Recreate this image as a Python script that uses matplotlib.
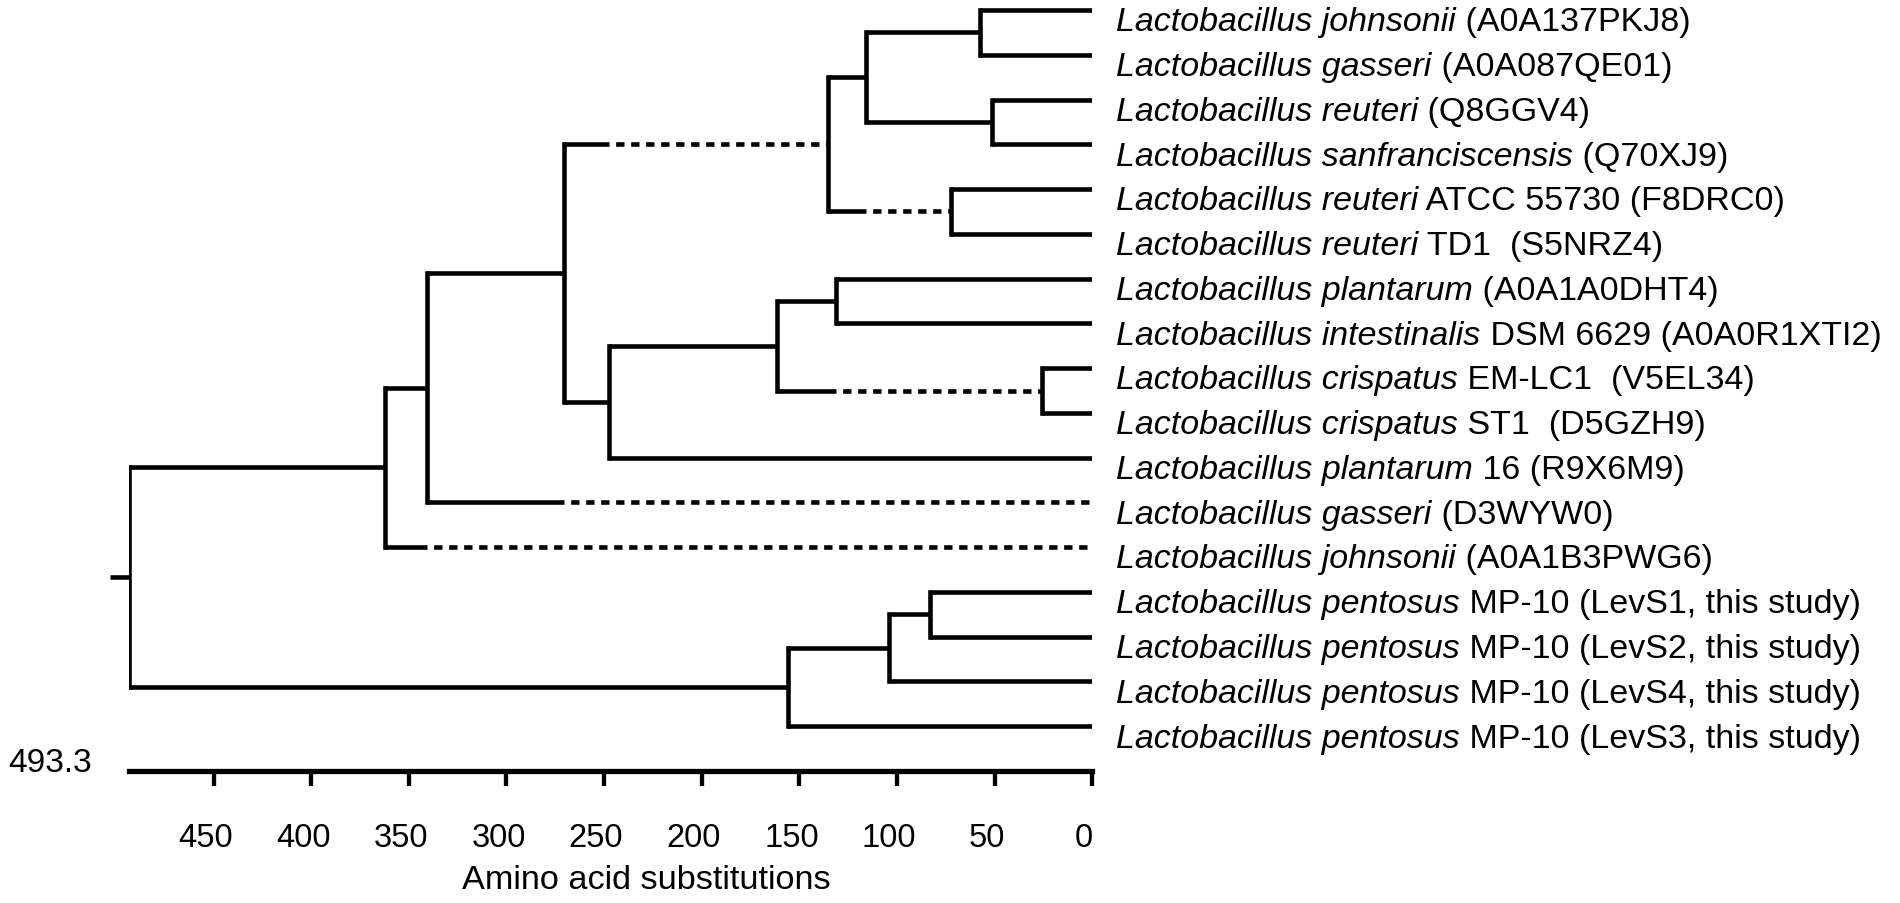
import matplotlib
matplotlib.use("Agg")
import matplotlib.pyplot as plt
from matplotlib.transforms import ScaledTranslation

plt.rcParams['font.family'] = ['Liberation Sans', 'DejaVu Sans']
plt.rcParams['lines.scale_dashes'] = False

# ---------------- data ----------------
genus = "Lactobacillus"
species = ["johnsonii", "gasseri", "reuteri", "sanfranciscensis", "reuteri", "reuteri",
           "plantarum", "intestinalis", "crispatus", "crispatus", "plantarum", "gasseri",
           "johnsonii", "pentosus", "pentosus", "pentosus", "pentosus"]
suffixes = ["(A0A137PKJ8)", "(A0A087QE01)", "(Q8GGV4)", "(Q70XJ9)",
            "ATCC 55730 (F8DRC0)", "TD1  (S5NRZ4)", "(A0A1A0DHT4)",
            "DSM 6629 (A0A0R1XTI2)", "EM-LC1  (V5EL34)", "ST1  (D5GZH9)",
            "16 (R9X6M9)", "(D3WYW0)", "(A0A1B3PWG6)",
            "MP-10 (LevS1, this study)", "MP-10 (LevS2, this study)",
            "MP-10 (LevS4, this study)", "MP-10 (LevS3, this study)"]

# internal nodes (children are leaf row indices or node names), height in substitutions
node_names = ["F", "G", "E", "H", "D", "K", "L", "J", "I", "C", "B", "A", "O", "N", "M", "root"]
node_left = [0, 2, "F", 4, "E", 6, 8, "K", "J", "D", "C", "B", 13, "O", "N", "A"]
node_right = [1, 3, "G", 5, "H", 7, 9, "L", 10, "I", 11, 12, 14, 15, 16, "M"]
node_height = [57.5, 51.2, 116.0, 72.3, 135.2, 131.2, 25.9, 161.6, 247.3, 270.4,
               340.8, 362.2, 83.2, 104.1, 155.7, 493.3]
dashed_branches = [("D", "H"), ("J", "L"), ("C", "D"), ("B", 11), ("A", 12)]

xticks = [0, 50, 100, 150, 200, 250, 300, 350, 400, 450]
xlabel = "Amino acid substitutions"

# ---------------- layout ----------------
W, H = 1900, 904
fig = plt.figure(figsize=(W / 100, H / 100), dpi=100)
ax_left, ax_right, ax_top, ax_bottom = 129, 1092.3, 0, 772
ax = fig.add_axes([ax_left / W, (H - ax_bottom) / H, (ax_right - ax_left) / W, (ax_bottom - ax_top) / H])

root_h = node_height[-1]
ax.set_xlim(root_h, 0)
ax.set_ylim(17.0, -0.246)

LW = 3.3
pos = {}
for i in range(len(species)):
    pos[i] = (0.0, float(i))
for name, l, r, h in zip(node_names, node_left, node_right, node_height):
    pos[name] = (h, (pos[l][1] + pos[r][1]) / 2)

dash_on, dash_off = 6.0, 4.8
for name, l, r, h in zip(node_names, node_left, node_right, node_height):
    yl, yr = pos[l][1], pos[r][1]
    ax.plot([h, h], [yl, yr], color='black', lw=LW, solid_capstyle='projecting')
    for child, sib in ((l, r), (r, l)):
        cx, cy = pos[child]
        if (name, child) in dashed_branches:
            sx = pos[sib][0]
            ax.plot([h, sx], [cy, cy], color='black', lw=LW, solid_capstyle='butt')
            ax.plot([sx, cx], [cy, cy], color='black', lw=LW, dash_capstyle='butt',
                    linestyle=(dash_on, (dash_on, dash_off)))
        else:
            ax.plot([h, cx], [cy, cy], color='black', lw=LW, solid_capstyle='butt')

# root stub
root_y = pos["root"][1]
ax.plot([root_h, root_h + 9.5], [root_y, root_y], color='black', lw=LW,
        solid_capstyle='butt', clip_on=False)

# leaf labels
LABEL_FS = 24.5
for i, (sp, suf) in enumerate(zip(species, suffixes)):
    t1 = ax.annotate(f"{genus} {sp}", xy=(0, i), xytext=(17.3, -14.6),
                     textcoords='offset points', fontsize=LABEL_FS, fontstyle='italic',
                     ha='left', va='baseline', annotation_clip=False)
    ax.annotate(" " + suf, xy=(1, 0), xycoords=t1, fontsize=LABEL_FS,
                ha='left', va='bottom', annotation_clip=False)

# axis styling
for s in ['left', 'right', 'top']:
    ax.spines[s].set_visible(False)
ax.spines['bottom'].set_linewidth(3.8)
ax.set_yticks([])
ax.set_xticks(xticks)
ax.set_xticklabels([str(t) for t in xticks])
ax.tick_params(axis='x', length=10.8, width=3.1, labelsize=23.5, pad=26, direction='out')
shift = ScaledTranslation(-8 / 100, 0, fig.dpi_scale_trans)
for lab in ax.get_xticklabels():
    lab.set_transform(lab.get_transform() + shift)
ax.set_xlabel(xlabel, fontsize=24.7)
ax.xaxis.set_label_coords(0.537, -0.1205)

# scale value at the left of the axis
ax.annotate(f"{root_h:.1f}", xy=(root_h, 0), xycoords=('data', 'axes fraction'),
            xytext=(-26.6, 6.2), textcoords='offset points', fontsize=24,
            ha='right', va='center', annotation_clip=False)

ax.patch.set_alpha(0)
fig.savefig("out.png", dpi=100, facecolor='white')
